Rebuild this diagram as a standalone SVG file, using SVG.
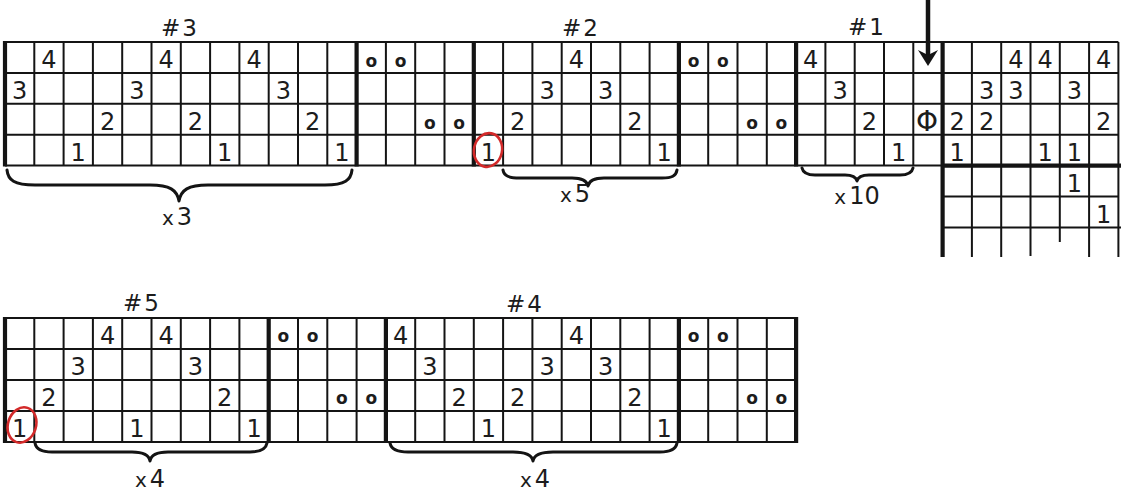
<svg xmlns="http://www.w3.org/2000/svg" width="1121" height="494" viewBox="0 0 1121 494">
<style>
.bg{fill:#fff}
.thin{stroke:#141414;stroke-width:2;fill:none}
.thick{stroke:#141414;stroke-width:4.2;fill:none}
.d{font-family:"DejaVu Sans",sans-serif;font-size:24px;text-anchor:middle;fill:#1c1c1c}
.o{font-family:"DejaVu Sans",sans-serif;font-size:17px;font-weight:bold;text-anchor:middle;fill:#1c1c1c}
.t{font-family:"DejaVu Sans",sans-serif;font-size:23px;text-anchor:middle;fill:#1c1c1c;letter-spacing:2px}
.rep{font-family:"DejaVu Sans",sans-serif;font-size:24px;text-anchor:middle;fill:#1c1c1c}
.sx{font-size:20px}
.brace{stroke:#141414;stroke-width:3;fill:none;stroke-linecap:round;stroke-linejoin:round}
.ring{stroke:#d32a2a;stroke-width:2.6;fill:none}
</style>
<rect class="bg" x="0" y="0" width="1121" height="494"/>

<g id="grid-top">
<path class="thin" d="M5 42H1118.4M5 72.9H1118.4M5 103.8H1118.4M5 134.7H1118.4M5 165.6H942.6M942.6 196.5H1118.4M942.6 227.4H1121"/>
<path class="thin" d="M34.3 42V165.6M63.6 42V165.6M92.9 42V165.6M122.2 42V165.6M151.5 42V165.6M180.8 42V165.6M210.1 42V165.6M239.4 42V165.6M268.7 42V165.6M298 42V165.6M327.3 42V165.6M385.9 42V165.6M415.2 42V165.6M444.5 42V165.6M503.1 42V165.6M532.4 42V165.6M561.7 42V165.6M591 42V165.6M620.3 42V165.6M649.6 42V165.6M708.2 42V165.6M737.5 42V165.6M766.8 42V165.6M825.4 42V165.6M854.7 42V165.6M884 42V165.6M913.3 42V165.6"/>
<path class="thin" d="M971.9 42V257M1001.2 42V257M1030.5 42V256M1059.8 42V242M1089.1 42V257M1118.4 42V257"/>
<path class="thick" d="M5 41V166.6M356.6 41V166.6M473.8 41V166.6M678.9 41V166.6M796.1 41V166.6M942.6 41V257M940.6 165.6H1121"/>
</g>

<g id="chart-3">
<text class="t" x="180" y="36">#3</text>
<text class="d" x="48.95" y="68">4</text><text class="d" x="166.15" y="68">4</text><text class="d" x="254.05" y="68">4</text>
<text class="d" x="19.65" y="98.9">3</text><text class="d" x="136.85" y="98.9">3</text><text class="d" x="283.35" y="98.9">3</text>
<text class="d" x="107.55" y="129.8">2</text><text class="d" x="195.45" y="129.8">2</text><text class="d" x="312.65" y="129.8">2</text>
<text class="d" x="78.25" y="160.7">1</text><text class="d" x="224.75" y="160.7">1</text><text class="d" x="341.95" y="160.7">1</text>
<path class="brace" d="M7 170C8 180 14 185 35 185L150 185C170 185 177 190 179 201C181 190 188 185 208 185L325 185C345 185 351 180 352 170"/>
<text class="rep" x="177" y="225"><tspan class="sx">x</tspan><tspan dx="3">3</tspan></text>
</g>

<g id="purl-a">
<text class="o" x="371.25" y="67">o</text><text class="o" x="400.55" y="67">o</text>
<text class="o" x="429.85" y="128.8">o</text><text class="o" x="459.15" y="128.8">o</text>
</g>

<g id="chart-2">
<text class="t" x="581" y="36">#2</text>
<text class="d" x="576.35" y="68">4</text>
<text class="d" x="547.05" y="98.9">3</text><text class="d" x="605.65" y="98.9">3</text>
<text class="d" x="517.75" y="129.8">2</text><text class="d" x="634.95" y="129.8">2</text>
<text class="d" x="488.45" y="160.7">1</text><text class="d" x="664.25" y="160.7">1</text>
<ellipse class="ring" cx="488" cy="150" rx="14" ry="17" transform="rotate(12 488 150)"/>
<path class="brace" d="M503 170C504 176 509 178 520 178L572 178C582 178 587 181 588 186C589 181 594 178 604 178L662 178C672 178 676 176 677 170"/>
<text class="rep" x="575" y="202"><tspan class="sx">x</tspan><tspan dx="3">5</tspan></text>
</g>

<g id="purl-b">
<text class="o" x="693.55" y="67">o</text><text class="o" x="722.85" y="67">o</text>
<text class="o" x="752.15" y="128.8">o</text><text class="o" x="781.45" y="128.8">o</text>
</g>

<g id="chart-1">
<text class="t" x="867" y="35">#1</text>
<text class="d" x="810.75" y="68">4</text>
<text class="d" x="840.05" y="98.9">3</text>
<text class="d" x="869.35" y="129.8">2</text>
<text class="d" x="898.65" y="160.7">1</text>
<text class="d" x="927" y="131" style="font-size:28px">Φ</text>
<path class="brace" d="M802 168C803 173 807 175 815 175L845 175C852 175 856 177 857 181C858 177 862 175 869 175L900 175C908 175 912 173 913 168"/>
<text class="rep" x="857" y="204"><tspan class="sx">x</tspan><tspan dx="3">10</tspan></text>
</g>

<g id="start-arrow">
<path d="M928 0V56" stroke="#141414" stroke-width="4.5" fill="none"/>
<polygon points="918,50 928,55 938,50 928,66" fill="#141414"/>
</g>

<g id="chart-right">
<text class="d" x="1015.85" y="68">4</text><text class="d" x="1045.15" y="68">4</text><text class="d" x="1103.75" y="68">4</text>
<text class="d" x="986.55" y="98.9">3</text><text class="d" x="1015.85" y="98.9">3</text><text class="d" x="1074.45" y="98.9">3</text>
<text class="d" x="957.25" y="129.8">2</text><text class="d" x="986.55" y="129.8">2</text><text class="d" x="1103.75" y="129.8">2</text>
<text class="d" x="957.25" y="160.7">1</text><text class="d" x="1045.15" y="160.7">1</text><text class="d" x="1074.45" y="160.7">1</text>
<text class="d" x="1074.45" y="191.6">1</text>
<text class="d" x="1103.75" y="222.5">1</text>
</g>

<g id="grid-bottom">
<path class="thin" d="M5 318H796.1M5 349H796.1M5 380H796.1M5 411H796.1M5 442H796.1"/>
<path class="thin" d="M34.3 318V442M63.6 318V442M92.9 318V442M122.2 318V442M151.5 318V442M180.8 318V442M210.1 318V442M239.4 318V442M298 318V442M327.3 318V442M356.6 318V442M415.2 318V442M444.5 318V442M473.8 318V442M503.1 318V442M532.4 318V442M561.7 318V442M591 318V442M620.3 318V442M649.6 318V442M708.2 318V442M737.5 318V442M766.8 318V442"/>
<path class="thick" d="M5 317V443M268.7 317V443M385.9 317V443M678.9 317V443M796.1 317V443"/>
</g>

<g id="chart-5">
<text class="t" x="142" y="311">#5</text>
<text class="d" x="107.55" y="344">4</text><text class="d" x="166.15" y="344">4</text>
<text class="d" x="78.25" y="375">3</text><text class="d" x="195.45" y="375">3</text>
<text class="d" x="48.95" y="406">2</text><text class="d" x="224.75" y="406">2</text>
<text class="d" x="19.65" y="437">1</text><text class="d" x="136.85" y="437">1</text><text class="d" x="254.05" y="437">1</text>
<ellipse class="ring" cx="22" cy="425" rx="14" ry="18" transform="rotate(18 22 425)"/>
<path class="brace" d="M35 443C36 449 41 452 52 452L132 452C144 452 149 455 150 461C151 455 156 452 168 452L250 452C261 452 266 449 267 443"/>
<text class="rep" x="150" y="487"><tspan class="sx">x</tspan><tspan dx="3">4</tspan></text>
</g>

<g id="purl-c">
<text class="o" x="283.35" y="342">o</text><text class="o" x="312.65" y="342">o</text>
<text class="o" x="341.95" y="404">o</text><text class="o" x="371.25" y="404">o</text>
</g>

<g id="chart-4">
<text class="t" x="525" y="312">#4</text>
<text class="d" x="400.55" y="344">4</text><text class="d" x="576.35" y="344">4</text>
<text class="d" x="429.85" y="375">3</text><text class="d" x="547.05" y="375">3</text><text class="d" x="605.65" y="375">3</text>
<text class="d" x="459.15" y="406">2</text><text class="d" x="517.75" y="406">2</text><text class="d" x="634.95" y="406">2</text>
<text class="d" x="488.45" y="437">1</text><text class="d" x="664.25" y="437">1</text>
<path class="brace" d="M390 443C391 449 396 452 408 452L513 452C526 452 532 455 533 461C534 455 540 452 553 452L660 452C671 452 676 449 677 443"/>
<text class="rep" x="535" y="487"><tspan class="sx">x</tspan><tspan dx="3">4</tspan></text>
</g>

<g id="purl-d">
<text class="o" x="693.55" y="342">o</text><text class="o" x="722.85" y="342">o</text>
<text class="o" x="752.15" y="404">o</text><text class="o" x="781.45" y="404">o</text>
</g>
</svg>
